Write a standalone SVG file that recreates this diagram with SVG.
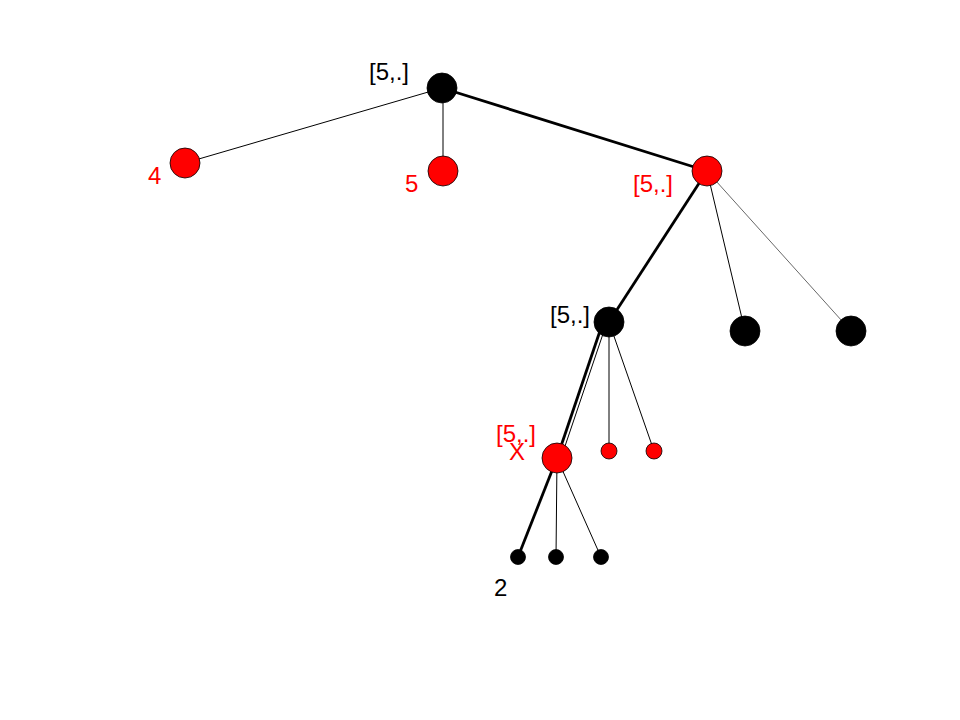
<svg xmlns="http://www.w3.org/2000/svg" width="960" height="720" viewBox="0 0 960 720">
<style>
.t{font-family:"Liberation Sans",Arial,sans-serif;font-size:24px}
.k{fill:#000}
.r{fill:#f00}
.nr{fill:#f00;stroke:#000;stroke-width:0.8}
.nb{fill:#000;stroke:#000;stroke-width:0.8}
.thin{stroke:#000;stroke-width:1;fill:none}
.hair{stroke:#000;stroke-width:0.6;fill:none}
.thick{stroke:#000;stroke-width:2.8;fill:none}
</style>
<rect width="960" height="720" fill="#fff"/>
<g id="connectors">
<line class="thin" x1="442" y1="88" x2="185" y2="163"/>
<line class="thin" x1="443" y1="88" x2="443" y2="171"/>
<line class="thick" x1="442" y1="88" x2="707" y2="171"/>
<line class="thick" x1="707" y1="171" x2="609" y2="322"/>
<line class="thin" x1="707" y1="171" x2="745" y2="331"/>
<line class="hair" x1="707" y1="171" x2="851" y2="331"/>
<line class="thick" x1="603" y1="322" x2="557" y2="458"/>
<line class="thin" x1="607" y1="322" x2="561" y2="458"/>
<line class="thin" x1="609" y1="322" x2="609" y2="451"/>
<line class="thin" x1="609" y1="322" x2="654" y2="451"/>
<line class="thick" x1="557" y1="458" x2="518" y2="557"/>
<line class="thin" x1="557" y1="458" x2="556" y2="557"/>
<line class="thin" x1="557" y1="458" x2="601" y2="557"/>
</g>
<g id="n-root"><circle class="nb" cx="442" cy="88" r="15"/><text class="t k" x="369" y="80">[5,.]</text></g>
<g id="n-4"><circle class="nr" cx="185" cy="163" r="15"/><text class="t r" x="148" y="184">4</text></g>
<g id="n-5"><circle class="nr" cx="443" cy="171" r="15"/><text class="t r" x="405" y="192">5</text></g>
<g id="n-right"><circle class="nr" cx="707" cy="171" r="15"/><text class="t r" x="633" y="192">[5,.]</text></g>
<g id="n-mid"><circle class="nb" cx="609" cy="322" r="15"/><text class="t k" x="550" y="323">[5,.]</text></g>
<g id="n-b1"><circle class="nb" cx="745" cy="331" r="15"/></g>
<g id="n-b2"><circle class="nb" cx="851" cy="331" r="15"/></g>
<g id="n-x"><circle class="nr" cx="557" cy="458" r="15"/><text class="t r" x="496" y="442">[5,.]</text><text class="t r" x="509" y="460">X</text></g>
<g id="n-r1"><circle class="nr" cx="609" cy="451" r="8"/></g>
<g id="n-r2"><circle class="nr" cx="654" cy="451" r="8"/></g>
<g id="n-s1"><circle class="nb" cx="518" cy="557" r="7.5"/><text class="t k" x="494" y="596">2</text></g>
<g id="n-s2"><circle class="nb" cx="556" cy="557" r="7.5"/></g>
<g id="n-s3"><circle class="nb" cx="601" cy="557" r="7.5"/></g>
</svg>
